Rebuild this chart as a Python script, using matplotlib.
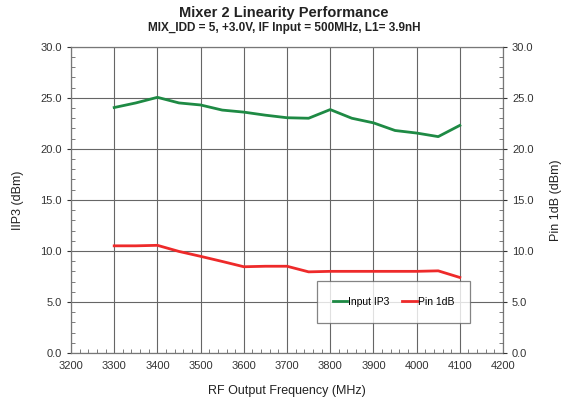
import matplotlib
matplotlib.use("Agg")
import matplotlib.pyplot as plt
from matplotlib.ticker import MultipleLocator, FormatStrFormatter

freq = [3300, 3350, 3400, 3450, 3500, 3550, 3600, 3650, 3700, 3750, 3800,
        3850, 3900, 3950, 4000, 4050, 4100]
iip3 = [24.05, 24.5, 25.05, 24.5, 24.3, 23.8, 23.6, 23.3, 23.05, 23.0, 23.85,
        23.0, 22.55, 21.8, 21.55, 21.2, 22.3]
p1db = [10.5, 10.5, 10.55, 9.95, 9.47, 8.97, 8.45, 8.5, 8.5, 7.95, 8.0,
        8.0, 8.0, 8.0, 8.0, 8.05, 7.4]

plt.rcParams['font.family'] = ['Liberation Sans', 'DejaVu Sans']

fig = plt.figure(figsize=(5.68, 4.0), dpi=100)
ax = fig.add_axes([0.125, 0.1175, 0.7606, 0.7655])

ax.plot(freq, iip3, color='#1e8a44', lw=2.0, label='Input IP3', zorder=3)
ax.plot(freq, p1db, color='#ee2a2a', lw=2.0, label='Pin 1dB', zorder=3)

ax.set_xlim(3200, 4200)
ax.set_ylim(0, 30)
ax.xaxis.set_major_locator(MultipleLocator(100))
ax.xaxis.set_minor_locator(MultipleLocator(20))
ax.yaxis.set_major_locator(MultipleLocator(5))
ax.yaxis.set_minor_locator(MultipleLocator(1))
ax.yaxis.set_major_formatter(FormatStrFormatter('%.1f'))
ax.grid(True, which='major', color='#666666', lw=0.8)
ax.tick_params(axis='both', which='major', labelsize=8, colors='#333333', length=3)
ax.tick_params(axis='x', which='major', length=0, pad=6)
ax.tick_params(axis='both', which='minor', direction='in', length=3, color='#666666')
for s in ax.spines.values():
    s.set_color('#777777')
    s.set_linewidth(0.9)

ax2 = ax.twinx()
ax2.set_ylim(0, 30)
ax2.yaxis.set_major_locator(MultipleLocator(5))
ax2.yaxis.set_minor_locator(MultipleLocator(1))
ax2.yaxis.set_major_formatter(FormatStrFormatter('%.1f'))
ax2.tick_params(axis='y', which='major', labelsize=8, colors='#333333', length=3)
ax2.tick_params(axis='y', which='minor', direction='in', length=3, color='#666666')
for s in ax2.spines.values():
    s.set_visible(False)

ax.set_xlabel('RF Output Frequency (MHz)', fontsize=9, color='#222222', labelpad=10)
ax.set_ylabel('IIP3 (dBm)', fontsize=9, color='#222222', labelpad=12)
ax2.set_ylabel('Pin 1dB (dBm)', fontsize=9, color='#222222', labelpad=12)

fig.text(0.5, 0.968, 'Mixer 2 Linearity Performance', ha='center', va='center',
         fontsize=10.5, fontweight='bold', color='#222222')
fig.text(0.5, 0.93, 'MIX_IDD = 5, +3.0V, IF Input = 500MHz, L1= 3.9nH', ha='center',
         va='center', fontsize=8.5, fontweight='bold', color='#222222')

leg = ax.legend(loc='center', bbox_to_anchor=(0.7465, 0.1665, 0.0, 0.0), ncol=2,
                fontsize=7.5, frameon=True, fancybox=False, handlelength=1.4,
                handletextpad=0.1, columnspacing=1.2, borderpad=1.5)
leg.get_frame().set_edgecolor('#666666')
leg.get_frame().set_linewidth(0.9)
leg.set_zorder(5)

fig.savefig('out.png', dpi=100)
